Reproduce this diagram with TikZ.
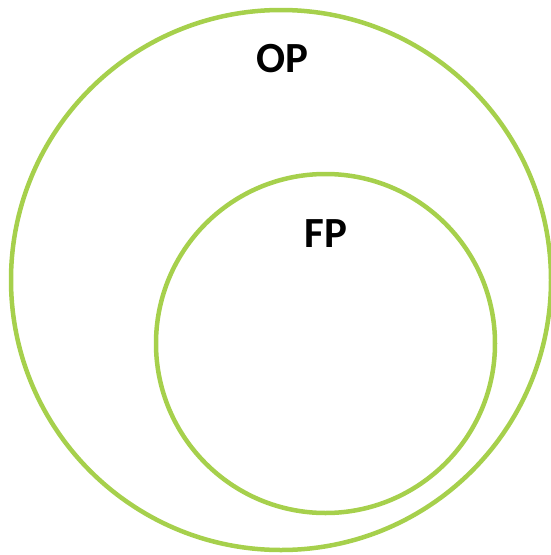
\documentclass[tikz,border=0pt]{standalone}
\usepackage{fontspec}
\setmainfont{Carlito}
\definecolor{ringgreen}{RGB}{166,208,76}
\begin{document}
\begin{tikzpicture}[x=1pt,y=-1pt,
  ring/.style={draw=ringgreen,line width=4.5pt,circle,inner sep=0pt},
  lbl/.style={font=\fontsize{43}{43}\selectfont\bfseries,text=black,inner sep=0pt}]
\useasboundingbox (0,0) rectangle (550,555);
\node[ring,minimum size=540pt] (op) at (281,280) {};
\node[ring,minimum size=339pt] (fp) at (325.5,343.5) {};
\node[lbl] (optext) at (282.5,58.5) {OP};
\node[lbl] (fptext) at (326,233.5) {FP};
\end{tikzpicture}
\end{document}
